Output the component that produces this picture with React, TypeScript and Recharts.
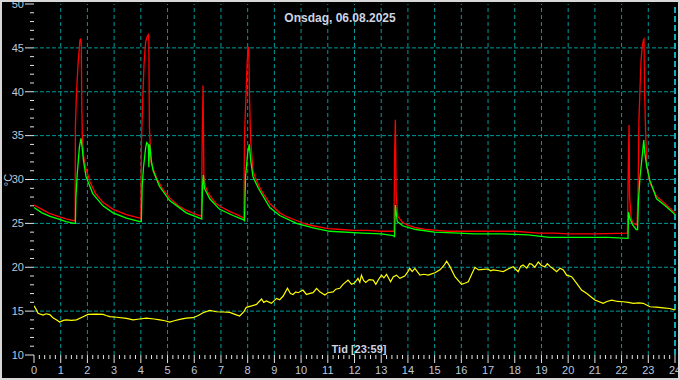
import React from "react";
import { LineChart, Line, XAxis, YAxis, ReferenceLine } from "recharts";

const chartTitle = "Onsdag, 06.08.2025";
const xTitle = "Tid [23:59]";
const yTitle = "°C";

const hourTicks = [0, 1, 2, 3, 4, 5, 6, 7, 8, 9, 10, 11, 12, 13, 14, 15, 16, 17, 18, 19, 20, 21, 22, 23, 24];
const tempTicks = [10, 15, 20, 25, 30, 35, 40, 45, 50];
const gridHours = [1, 2, 3, 4, 5, 6, 7, 8, 9, 10, 11, 12, 13, 14, 15, 16, 17, 18, 19, 20, 21, 22, 23];
const gridTemps = [15, 20, 25, 30, 35, 40, 45];
const nowHour = 24;

const redPoints: [number, number][] = [
  [0.0, 27.1], [0.3, 26.6], [0.6, 26.1], [0.9, 25.8], [1.2, 25.5], [1.5, 25.3], [1.54, 25.3],
  [1.55, 36.0], [1.59, 39.8], [1.65, 43.2], [1.69, 44.7], [1.72, 45.9], [1.75, 46.0], [1.77, 45.6],
  [1.79, 38.3], [1.81, 34.9], [1.86, 32.6], [1.95, 31.2], [2.1, 29.7], [2.3, 28.4], [2.58, 27.4],
  [2.96, 26.6], [3.46, 26.0], [3.96, 25.6], [4.0, 25.5],
  [4.02, 33.7], [4.07, 39.0], [4.12, 43.2], [4.18, 45.7], [4.24, 46.3], [4.28, 46.5], [4.3, 46.0],
  [4.32, 36.0], [4.38, 32.0], [4.45, 31.3], [4.6, 30.1], [4.8, 29.0], [5.08, 27.9], [5.4, 27.0],
  [5.7, 26.5], [6.0, 26.1], [6.27, 25.8],
  [6.3, 35.2], [6.33, 40.7], [6.36, 30.5], [6.42, 29.2], [6.5, 28.6], [6.6, 28.1], [6.8, 27.3],
  [7.0, 26.9], [7.3, 26.4], [7.6, 26.0], [7.86, 25.6],
  [7.88, 34.9], [7.94, 39.8], [7.98, 43.2], [8.01, 44.9], [8.04, 45.1], [8.07, 39.4], [8.11, 34.5],
  [8.2, 31.0], [8.3, 30.1], [8.45, 29.1], [8.6, 28.3], [8.85, 27.2], [9.2, 26.2], [9.5, 25.7],
  [9.85, 25.3], [10.2, 24.9], [10.5, 24.7], [11.0, 24.4], [11.5, 24.3], [12.0, 24.2], [12.5, 24.2],
  [13.0, 24.1], [13.48, 24.1],
  [13.5, 32.8], [13.53, 36.8], [13.56, 28.4], [13.62, 25.8], [13.8, 25.1], [14.0, 24.8], [14.3, 24.5],
  [14.7, 24.3], [15.1, 24.2], [15.5, 24.1], [16.0, 24.1], [17.0, 24.1], [18.0, 24.1], [18.9, 23.9],
  [19.5, 23.9], [20.0, 23.8], [21.0, 23.8], [22.22, 23.9],
  [22.25, 31.4], [22.28, 36.2], [22.3, 28.0], [22.36, 25.6], [22.43, 25.0], [22.58, 24.8],
  [22.62, 29.2], [22.65, 36.8], [22.69, 40.4], [22.73, 43.6], [22.77, 45.1], [22.82, 45.9],
  [22.84, 46.0], [22.86, 40.2], [22.9, 35.4], [22.94, 31.8], [23.06, 29.6], [23.31, 28.1],
  [23.68, 27.1], [24.0, 26.2],
];

const greenPoints: [number, number][] = [
  [0.0, 26.8], [0.3, 26.2], [0.6, 25.8], [0.9, 25.5], [1.2, 25.2], [1.5, 25.0], [1.55, 25.0],
  [1.57, 28.0], [1.62, 30.7], [1.66, 32.2], [1.7, 33.7], [1.76, 34.7], [1.8, 33.7], [1.85, 32.2],
  [1.95, 30.3], [2.2, 28.4], [2.58, 27.0], [2.96, 26.2], [3.46, 25.6], [3.96, 25.2], [4.02, 25.2],
  [4.05, 29.2], [4.1, 31.4], [4.18, 33.6], [4.22, 34.2], [4.28, 34.0], [4.3, 31.4], [4.33, 34.0],
  [4.4, 32.0], [4.46, 31.0], [4.7, 29.2], [5.08, 27.6], [5.7, 26.2], [6.2, 25.6], [6.28, 25.5],
  [6.31, 29.3], [6.34, 30.5], [6.38, 29.0], [6.58, 27.8], [6.95, 26.6], [7.45, 25.9], [7.85, 25.4],
  [7.88, 25.3], [7.92, 30.3], [8.0, 33.0], [8.06, 34.0], [8.12, 32.0], [8.2, 30.3], [8.4, 29.0],
  [8.83, 26.8], [9.2, 25.9], [9.83, 25.0], [10.45, 24.5], [11.07, 24.1], [12.3, 23.9], [13.0, 23.8],
  [13.45, 23.6], [13.5, 23.5],
  [13.53, 27.1], [13.6, 25.2], [13.82, 24.7], [14.3, 24.3], [15.0, 24.0], [15.9, 23.9], [16.5, 23.8],
  [17.5, 23.8], [18.5, 23.7], [19.3, 23.4], [20.5, 23.4], [21.5, 23.4], [22.24, 23.3],
  [22.26, 26.3], [22.32, 25.5], [22.42, 24.8], [22.55, 24.3], [22.6, 24.3], [22.63, 27.5],
  [22.69, 30.3], [22.77, 32.6], [22.83, 34.5], [22.87, 33.0], [22.94, 31.5], [23.06, 29.9],
  [23.31, 27.8], [23.68, 26.9], [24.0, 26.0],
];

const yellowPoints: [number, number][] = [
  [0.0, 15.6], [0.08, 15.2], [0.15, 14.75], [0.34, 14.55], [0.45, 14.7], [0.59, 14.6], [0.71, 14.25],
  [0.85, 14.0], [0.96, 13.76], [1.1, 13.95], [1.21, 14.0], [1.4, 13.95], [1.59, 14.0], [1.8, 14.3],
  [2.02, 14.63], [2.34, 14.66], [2.59, 14.63], [2.7, 14.5], [2.84, 14.37], [3.1, 14.3], [3.46, 14.18],
  [3.71, 14.0], [3.95, 14.1], [4.21, 14.2], [4.5, 14.1], [4.71, 14.0], [4.9, 13.9], [5.08, 13.76],
  [5.25, 13.9], [5.46, 14.05], [5.7, 14.2], [5.96, 14.25], [6.15, 14.5], [6.33, 14.82], [6.58, 15.08],
  [6.83, 14.93], [7.1, 14.9], [7.33, 14.85], [7.55, 14.6], [7.7, 14.44], [7.85, 14.9], [7.95, 15.43],
  [8.15, 15.6], [8.33, 15.77], [8.52, 16.38], [8.6, 16.0], [8.7, 16.15], [8.89, 15.89], [9.08, 16.45],
  [9.2, 16.3], [9.33, 16.72], [9.49, 17.6], [9.6, 17.0], [9.7, 16.9], [9.8, 17.2], [9.89, 17.1],
  [10.07, 17.4], [10.2, 16.9], [10.3, 17.0], [10.45, 17.1], [10.58, 17.6], [10.7, 17.2], [10.89, 16.83],
  [11.0, 17.1], [11.2, 17.2], [11.3, 17.5], [11.45, 17.6], [11.57, 18.05], [11.76, 18.54],
  [11.89, 18.05], [12.0, 18.2], [12.13, 18.73], [12.2, 18.3], [12.26, 19.1], [12.34, 18.5],
  [12.42, 18.28], [12.55, 18.6], [12.7, 18.54], [12.8, 18.05], [12.9, 18.6], [13.01, 19.1],
  [13.1, 18.8], [13.2, 19.2], [13.35, 18.35], [13.45, 18.9], [13.57, 19.1], [13.7, 18.73],
  [13.88, 19.0], [14.0, 19.5], [14.07, 19.87], [14.16, 19.5], [14.26, 19.87], [14.45, 19.1],
  [14.6, 19.2], [14.76, 19.1], [15.01, 19.37], [15.2, 19.7], [15.35, 20.2], [15.45, 20.7],
  [15.57, 20.1], [15.76, 18.92], [16.01, 18.05], [16.15, 18.2], [16.26, 18.35], [16.4, 19.3],
  [16.51, 19.99], [16.65, 19.7], [16.82, 19.75], [17.0, 19.8], [17.1, 19.6], [17.19, 19.7],
  [17.4, 19.6], [17.57, 19.5], [17.75, 19.8], [17.94, 20.06], [18.13, 19.5], [18.22, 20.1],
  [18.31, 20.25], [18.45, 19.9], [18.55, 20.4], [18.63, 20.37], [18.75, 20.0], [18.88, 20.6],
  [19.0, 20.2], [19.13, 20.06], [19.22, 20.4], [19.32, 20.1], [19.45, 19.8], [19.57, 19.5],
  [19.7, 19.9], [19.82, 19.7], [19.94, 19.1], [20.13, 18.92], [20.32, 18.16], [20.5, 17.4],
  [20.7, 17.0], [21.0, 16.26], [21.31, 15.89], [21.45, 16.1], [21.63, 16.26], [21.85, 16.1],
  [22.06, 16.07], [22.25, 16.0], [22.44, 15.89], [22.65, 15.95], [22.81, 15.89], [23.06, 15.5],
  [23.3, 15.45], [23.56, 15.37], [23.8, 15.3], [24.0, 15.13],
];

const toRows = (pts: [number, number][]) => pts.map(([t, v]) => ({ t, v }));
const redRows = toRows(redPoints);
const greenRows = toRows(greenPoints);
const yellowRows = toRows(yellowPoints);

// minor tick positions (every 0.2 h, every 1 °C)
const minorX: number[] = [];
for (let i = 0; i <= 120; i++) minorX.push(Math.round(i * 2) / 10);
const minorY: number[] = [];
for (let i = 10; i <= 50; i++) minorY.push(i);

const FONT = "'Liberation Sans', Arial, sans-serif";
const LABEL = "#bcc8dc";
const TICK = "#e4e4e4";
const GRID = "#009a9a";

function XTick(props: any) {
  const { x, y, payload } = props;
  const v = payload.value as number;
  const major = hourTicks.includes(v);
  return (
    <g>
      <line x1={x} x2={x} y1={y} y2={y + (major ? 8 : 4)} stroke={TICK} strokeWidth={1} />
      {major && (
        <text x={x} y={y + 18.5} textAnchor="middle" fill={LABEL} fontSize={11} fontFamily={FONT}>
          {String(v)}
        </text>
      )}
    </g>
  );
}

function YTick(props: any) {
  const { x, y, payload } = props;
  const v = payload.value as number;
  const major = tempTicks.includes(v);
  return (
    <g>
      <line x1={x - (major ? 9 : 4)} x2={x} y1={y} y2={y} stroke={TICK} strokeWidth={1} />
      {major && (
        <text x={x - 10} y={y} dy="0.35em" textAnchor="end" fill={LABEL} fontSize={11} fontFamily={FONT}>
          {String(v)}
        </text>
      )}
    </g>
  );
}

export default function App() {
  return (
    <div style={{ position: "absolute", left: 0, top: 0, width: 680, height: 380, background: "#000" }}>
      <style>{"body{margin:0;background:#000}"}</style>
      <LineChart width={680} height={380} margin={{ top: 4, right: 5, left: 0, bottom: 0 }}>
        <XAxis
          dataKey="t"
          type="number"
          domain={[0, 24]}
          ticks={minorX}
          interval={0}
          tick={<XTick />}
          tickLine={false}
          axisLine={false}
          tickSize={0}
          tickMargin={0}
          height={25}
          allowDataOverflow
        />
        <YAxis
          type="number"
          domain={[10, 50]}
          ticks={minorY}
          interval={0}
          tick={<YTick />}
          tickLine={false}
          axisLine={false}
          tickSize={0}
          tickMargin={0}
          width={34}
          allowDataOverflow
        />
        {gridHours.map((h) => (
          <ReferenceLine key={"gx" + h} x={h} stroke={GRID} strokeDasharray="4 3" strokeWidth={1} />
        ))}
        {gridTemps.map((v) => (
          <ReferenceLine key={"gy" + v} y={v} stroke={GRID} strokeDasharray="4 2" strokeWidth={1} />
        ))}
        <ReferenceLine x={nowHour} stroke="#19e6f0" strokeDasharray="6 3" strokeWidth={1.5} />
        <Line data={redRows} dataKey="v" stroke="#ff0000" strokeWidth={1.3} dot={false} isAnimationActive={false} />
        <Line data={greenRows} dataKey="v" stroke="#00ff00" strokeWidth={1.3} dot={false} isAnimationActive={false} />
        <Line data={yellowRows} dataKey="v" stroke="#ffff00" strokeWidth={1.2} dot={false} isAnimationActive={false} />
      </LineChart>
      <svg width={680} height={380} style={{ position: "absolute", left: 0, top: 0, pointerEvents: "none" }}>
        <text x={340} y={22} textAnchor="middle" fill="#cdd4e2" fontSize={12} fontWeight="bold" fontFamily={FONT}>
          {chartTitle}
        </text>
        <text x={359} y={353} textAnchor="middle" fill="#cdd4e2" fontSize={11} fontWeight="bold" fontFamily={FONT}>
          {xTitle}
        </text>
        <text
          x={12}
          y={180}
          textAnchor="middle"
          fill={LABEL}
          fontSize={11}
          fontFamily={FONT}
          transform="rotate(-90 12 180)"
        >
          {yTitle}
        </text>
        <rect x={1} y={1} width={678} height={378} fill="none" stroke="#d8d8d8" strokeWidth={2} />
      </svg>
    </div>
  );
}
